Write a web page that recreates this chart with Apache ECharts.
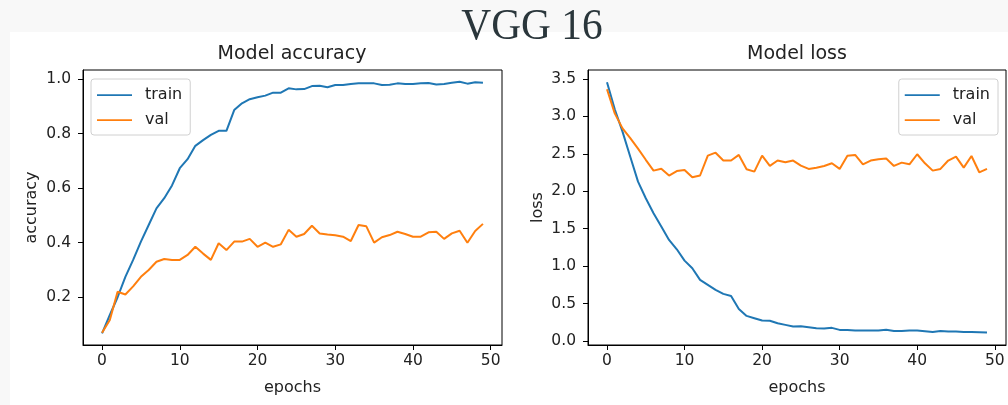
<!DOCTYPE html>
<html><head><meta charset="utf-8">
<script src="https://cdn.jsdelivr.net/npm/echarts@6/dist/echarts.min.js"></script>
<style>html,body{margin:0;padding:0;background:#f8f8f8}#c{width:1008px;height:405px}</style>
</head><body><div id="c"></div>
<script>
const epochs = Array.from({length:50},(_, i)=>i);
const accTrain = [0.068,0.135,0.20,0.275,0.337,0.404,0.465,0.526,0.563,0.61,0.673,0.706,0.755,0.776,0.795,0.81,0.81,0.886,0.911,0.926,0.933,0.939,0.95,0.95,0.966,0.962,0.963,0.974,0.975,0.97,0.978,0.978,0.982,0.984,0.984,0.984,0.978,0.979,0.984,0.982,0.982,0.984,0.985,0.98,0.982,0.986,0.99,0.983,0.988,0.986];
const accVal = [0.07,0.117,0.22,0.21,0.24,0.275,0.30,0.33,0.34,0.337,0.337,0.355,0.385,0.36,0.337,0.398,0.373,0.404,0.404,0.414,0.385,0.40,0.385,0.394,0.447,0.422,0.432,0.462,0.434,0.43,0.427,0.422,0.406,0.465,0.46,0.40,0.42,0.428,0.44,0.432,0.422,0.422,0.438,0.44,0.414,0.434,0.444,0.40,0.443,0.469];
const lossTrain = [3.455,3.095,2.796,2.46,2.128,1.906,1.705,1.527,1.349,1.224,1.073,0.971,0.815,0.748,0.681,0.628,0.601,0.425,0.334,0.303,0.272,0.27,0.236,0.214,0.191,0.195,0.182,0.169,0.165,0.174,0.147,0.147,0.138,0.138,0.138,0.138,0.15,0.133,0.133,0.138,0.138,0.129,0.12,0.133,0.125,0.125,0.12,0.12,0.116,0.111];
const lossVal = [3.362,3.04,2.84,2.71,2.57,2.42,2.275,2.30,2.21,2.27,2.284,2.186,2.21,2.475,2.515,2.41,2.41,2.485,2.293,2.262,2.475,2.338,2.41,2.387,2.41,2.342,2.298,2.315,2.338,2.373,2.298,2.475,2.485,2.36,2.41,2.427,2.436,2.338,2.382,2.36,2.494,2.373,2.275,2.298,2.41,2.462,2.315,2.47,2.253,2.298];
const xTicks = [0,10,20,30,40,50];
const accTicks = [0.2,0.4,0.6,0.8,1.0];
const lossTicks = [0,0.5,1.0,1.5,2.0,2.5,3.0,3.5];

const FONT = 'DejaVu Sans';
const TXT = '#222';
const BLUE = '#1f77b4', ORANGE = '#ff7f0e';
const chart = echarts.init(document.getElementById('c'), null, {renderer:'canvas'});
function pair(a){return epochs.map((e,i)=>[e,a[i]]);}
function xAxis(gi){return {type:'value',gridIndex:gi,min:-2.45,max:51.45,name:'epochs',nameLocation:'middle',nameGap:35,
  nameTextStyle:{fontFamily:FONT,fontSize:16,color:TXT},
  axisLine:{show:true,onZero:false,lineStyle:{color:'#000',width:1}},
  axisTick:{show:true,length:5,lineStyle:{color:'#000'},customValues:xTicks},
  axisLabel:{fontFamily:FONT,fontSize:15.5,color:TXT,margin:8,customValues:xTicks,formatter:v=>String(v)},
  splitLine:{show:false}};}
function yAxis(gi,min,max,ticks,name,gap){return {type:'value',gridIndex:gi,min:min,max:max,name:name,nameLocation:'middle',nameGap:gap,
  nameTextStyle:{fontFamily:FONT,fontSize:16,color:TXT},
  axisLine:{show:true,onZero:false,lineStyle:{color:'#000',width:1}},
  axisTick:{show:true,length:5,lineStyle:{color:'#000'},customValues:ticks},
  axisLabel:{fontFamily:FONT,fontSize:15.5,color:TXT,margin:12,customValues:ticks,formatter:v=>v.toFixed(1)},
  splitLine:{show:false}};}
function line(name,gi,data,color){return {type:'line',name:name,xAxisIndex:gi,yAxisIndex:gi,data:pair(data),showSymbol:false,
  lineStyle:{color:color,width:2},itemStyle:{color:color},animation:false};}
const legendCommon = {orient:'vertical',icon:'path://M0,0 L40,0 L40,2 L0,2 Z',itemWidth:35,itemHeight:2,itemGap:9,
  backgroundColor:'#fff',borderColor:'#d0d0d0',borderWidth:1,borderRadius:3,padding:[8,8,7,6],
  textStyle:{fontFamily:FONT,fontSize:16,lineHeight:16,color:TXT,padding:[0,0,0,8]},data:['train','val']};
chart.setOption({
  backgroundColor:'#f8f8f8',
  animation:false,
  graphic:[
    {type:'rect',shape:{x:10,y:32,width:998,height:373},style:{fill:'#fff'},z:-10},
    {type:'text',x:532,y:27,scaleX:0.94,originX:0,originY:0,style:{text:'VGG 16',fontFamily:'Liberation Serif',fontSize:44,fill:'#2a363b',textAlign:'center',textVerticalAlign:'middle'},z:10},
    {type:'text',x:292,y:54,style:{text:'Model accuracy',fontFamily:FONT,fontSize:19,fill:TXT,textAlign:'center',textVerticalAlign:'middle'}},
    {type:'text',x:797,y:54,style:{text:'Model loss',fontFamily:FONT,fontSize:19,fill:TXT,textAlign:'center',textVerticalAlign:'middle'}}
  ],
  grid:[
    {left:83,top:70,width:419,height:275,show:true,borderColor:'#000',borderWidth:1,backgroundColor:'#fff'},
    {left:588,top:70,width:418,height:275,show:true,borderColor:'#000',borderWidth:1,backgroundColor:'#fff'}
  ],
  xAxis:[xAxis(0),xAxis(1)],
  yAxis:[yAxis(0,0.025,1.033,accTicks,'accuracy',43),yAxis(1,-0.055,3.62,lossTicks,'loss',42)],
  legend:[
    Object.assign({},legendCommon,{left:91,top:79}),
    Object.assign({},legendCommon,{right:10,top:79})
  ],
  series:[line('train',0,accTrain,BLUE),line('val',0,accVal,ORANGE),line('train',1,lossTrain,BLUE),line('val',1,lossVal,ORANGE)]
});
</script></body></html>
